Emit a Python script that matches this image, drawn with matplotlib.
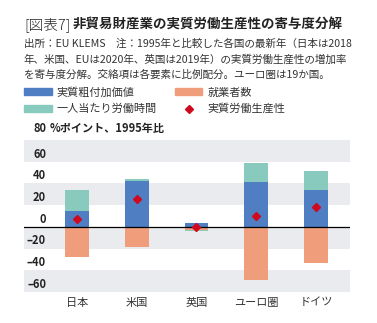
import matplotlib.pyplot as plt
from matplotlib.patches import Patch
from matplotlib.lines import Line2D
import matplotlib.transforms as mtransforms
import numpy as np

plt.rcParams['font.family'] = ['Noto Sans CJK JP', 'DejaVu Sans']

# 寄与度 (%ポイント、1995年比)
countries = ['日本', '米国', '英国', 'ユーロ圏', 'ドイツ']
value_added = [15.0, 42.2, 3.4, 41.2, 34.4]      # 実質粗付加価値
employment = [-27.6, -18.6, -3.2, -49.0, -33.2]  # 就業者数
hours = [19.4, 1.8, -0.5, 17.4, 17.4]            # 一人当たり労働時間
productivity = [6.8, 25.4, -0.3, 9.6, 18.6]      # 実質労働生産性
yticks = [-60, -40, -20, 0, 20, 40, 60, 80]

c_blue = '#4f7ec2'
c_orange = '#f09d7b'
c_teal = '#88cabd'
c_red = '#d0091e'
c_band = '#e9ebee'

W, H = 377, 323
fig = plt.figure(figsize=(W / 100, H / 100), dpi=100)

def fx(px):
    return px / W

def fy(py):
    return 1 - py / H

# axes box in pixels: left 24, right 350, top 140, bottom 292
ax = fig.add_axes([fx(24), fy(292), fx(350) - fx(24), fy(140) - fy(292)])
ax.set_xlim(-0.887, 4.57)
ax.set_ylim(-60, 80)

for lo in (60, 20, -20, -60):
    ax.axhspan(lo, lo + 20, color=c_band, lw=0, zorder=0)

x = np.arange(len(countries))
va = np.array(value_added)
emp = np.array(employment)
hrs = np.array(hours)
bw = 0.40
ax.bar(x, va, bw, color=c_blue, zorder=2)
ax.bar(x, emp, bw, color=c_orange, zorder=2)
# hours stacked above value added when positive, below employment when negative
hrs_bottom = np.where(hrs >= 0, np.maximum(va, 0), np.minimum(emp, 0))
ax.bar(x, hrs, bw, bottom=hrs_bottom, color=c_teal, zorder=2)
ax.plot(x, productivity, 'D', color=c_red, ms=4.5, zorder=4)
ax.axhline(0, color='black', lw=0.9, zorder=3)

for s in ax.spines.values():
    s.set_visible(False)
ax.set_yticks([])
ax.set_xticks(x)
ax.set_xticklabels(countries, fontsize=8, color='#333333')
ax.tick_params(axis='x', length=0, pad=4)

# y labels sit inside the plot, just above each gridline
trans = mtransforms.blended_transform_factory(ax.transAxes, ax.transData)
lx = (46 - 24) / 326
for v in yticks:
    lab = str(v) if v >= 0 else '–' + str(-v)
    if v == 80:
        ax.text(lx, v + 11, lab, transform=trans, ha='right', va='center',
                fontsize=8, fontweight='bold', color='#222222', clip_on=False)
        ax.text(lx + 4 / 326, v + 11, '%ポイント、1995年比', transform=trans,
                ha='left', va='center', fontsize=8, fontweight='bold',
                color='#222222', clip_on=False)
    else:
        ax.text(lx, v + 7, lab, transform=trans, ha='right', va='center',
                fontsize=8, fontweight='bold', color='#222222')

# title and notes
fig.text(fx(24), fy(25), '[図表7]', fontsize=10.5, color='#222222',
         ha='left', va='center', fontweight='light')
fig.text(fx(73), fy(25), '非貿易財産業の実質労働生産性の寄与度分解', fontsize=9.7,
         color='#222222', ha='left', va='center', fontweight='bold')
notes = ['出所：EU KLEMS　注：1995年と比較した各国の最新年（日本は2018',
         '年、米国、EUは2020年、英国は2019年）の実質労働生産性の増加率',
         'を寄与度分解。交絡項は各要素に比例配分。ユーロ圏は19か国。']
for i, line in enumerate(notes):
    fig.text(fx(24), fy(44 + 15.5 * i), line, fontsize=7.6, color='#333333',
             ha='left', va='center')

handles = [Patch(color=c_blue), Patch(color=c_teal), Patch(color=c_orange),
           Line2D([], [], marker='D', ls='', color=c_red, ms=4)]
labels = ['実質粗付加価値', '一人当たり労働時間', '就業者数', '実質労働生産性']
fig.legend(handles, labels, ncol=2, loc='upper left',
           bbox_to_anchor=(fx(24), fy(87)), frameon=False, fontsize=8,
           handlelength=2.5, handleheight=0.55, handletextpad=0.45,
           columnspacing=1.6, labelspacing=0.55, borderpad=0, borderaxespad=0,
           labelcolor='#333333')

fig.savefig('out.png', dpi=100)
